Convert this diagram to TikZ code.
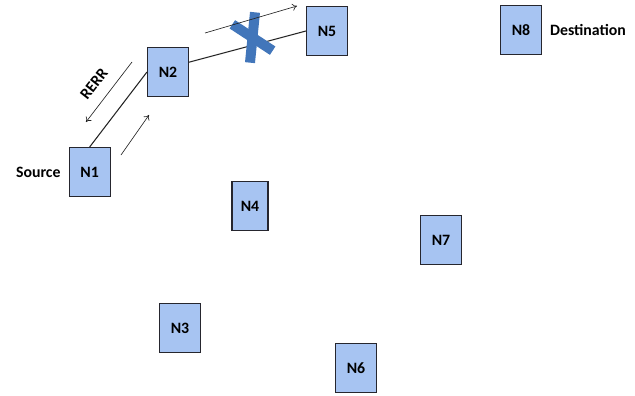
\documentclass[tikz,border=0pt]{standalone}
\usepackage{fontspec}
\setmainfont{Carlito}
\usepackage{tikz}
\usetikzlibrary{arrows.meta,positioning}
\definecolor{nodefill}{RGB}{167,196,242}
\definecolor{nodeline}{RGB}{38,38,46}
\definecolor{crossblue}{RGB}{66,118,186}
\definecolor{linkgray}{RGB}{35,35,35}

\begin{document}
\begin{tikzpicture}[node distance=6pt, font=\fontsize{13.5}{15}\selectfont\bfseries,
  host/.style={rectangle, draw=nodeline, fill=nodefill, line width=0.9pt,
    minimum width=1.23cm, minimum height=1.47cm, inner sep=0pt},
  link/.style={line width=0.9pt, linkgray},
  msg/.style={-{To[length=4pt,width=6pt]}, line width=0.55pt, linkgray}]
\useasboundingbox (0,0) rectangle (19.05,11.85);

% mobile nodes
\node (n1) [host] at (2.69,6.69) {N1};
\node (n2) [host] at (5.04,9.69) {N2};
\node (n3) [host] at (5.40,2.01) {N3};
\node (n4) [host, minimum width=1.08cm] at (7.50,5.67) {N4};
\node (n5) [host] at (9.81,10.92) {N5};
\node (n6) [host] at (10.68,0.81) {N6};
\node (n7) [host] at (13.23,4.65) {N7};
\node (n8) [host] at (15.63,10.95) {N8};
\node (src) [left=0.12cm of n1] {Source};
\node (dst) [right=0.12cm of n8] {Destination};

% route N1 - N2 - N5
\draw [link] (n1.north) -- (n2.west);
\draw [link] (n2.25) -- (n5.west);

% broken link
\draw [crossblue, line width=0.3cm] (7.65,11.48) -- (7.50,9.97);
\draw [crossblue, line width=0.3cm] (6.97,11.12) -- (8.18,10.33);

% packets along the route
\coordinate (rerrA) at (3.96,9.99);
\coordinate (rerrB) at (2.58,8.19);
\coordinate (dataA) at (3.63,7.20);
\coordinate (dataB) at (4.47,8.40);
\coordinate (fwdA) at (6.15,10.86);
\coordinate (fwdB) at (8.91,11.67);
\draw [msg] (rerrA) -- (rerrB);
\draw [msg] (dataA) -- (dataB);
\draw [msg] (fwdA) -- (fwdB);
\node (rerr) [rotate=52, inner sep=1pt] at (2.82,9.34) {RERR};
\end{tikzpicture}
\end{document}
